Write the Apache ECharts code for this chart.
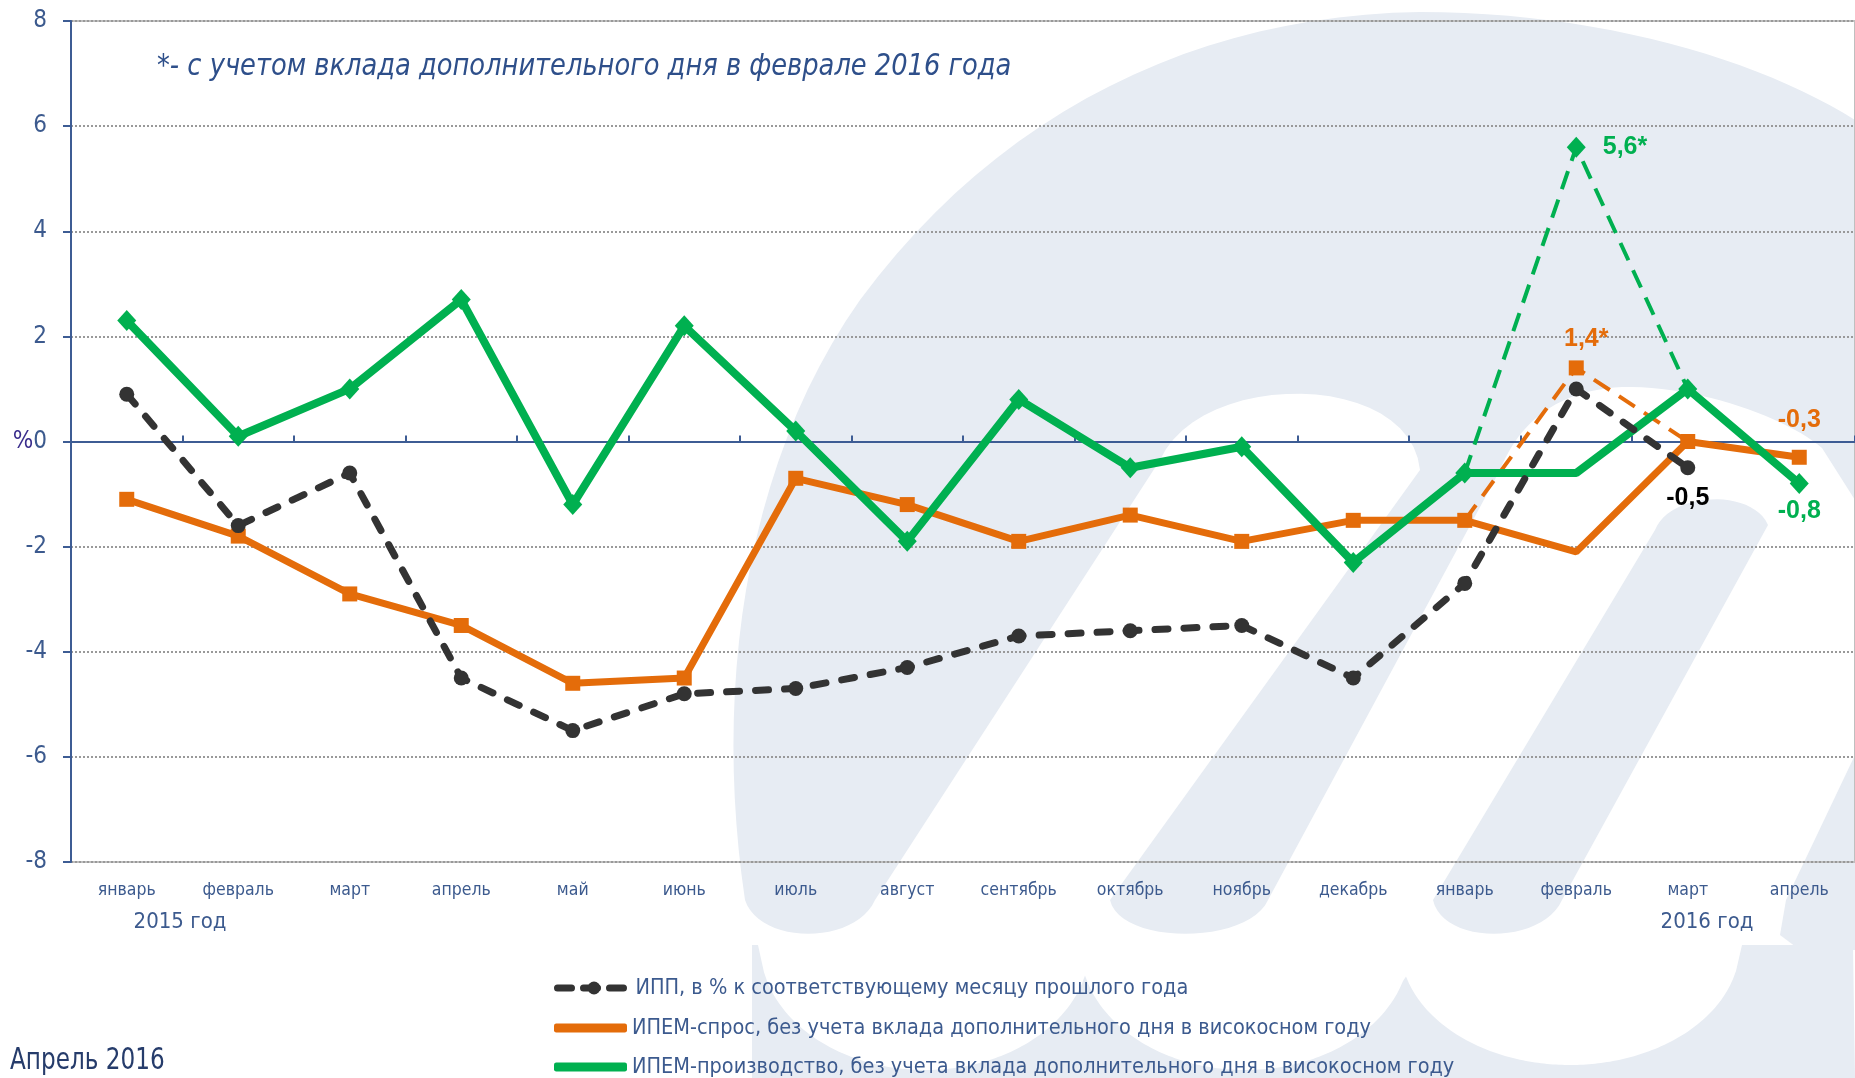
<!DOCTYPE html>
<html>
<head>
<meta charset="utf-8">
<script src="https://cdn.jsdelivr.net/npm/echarts@6/dist/echarts.min.js"></script>
<style>
  html, body { margin: 0; padding: 0; background: #fff; }
  #chart { width: 1855px; height: 1078px; }
</style>
</head>
<body>
<div id="chart"></div>
<script>
// категории (месяцы 2015-2016)
const months = ['январь', 'февраль', 'март', 'апрель', 'май', 'июнь', 'июль', 'август',
  'сентябрь', 'октябрь', 'ноябрь', 'декабрь', 'январь', 'февраль', 'март', 'апрель']
const yTicks = { min: -8, max: 8, step: 2 }

// ИПП, в % к соответствующему месяцу прошлого года
const ipp = [0.9, -1.6, -0.6, -4.5, -5.5, -4.8, -4.7, -4.3, -3.7, -3.6, -3.5, -4.5, -2.7, 1.0, -0.5, null]
// ИПЕМ-спрос
const demand = [-1.1, -1.8, -2.9, -3.5, -4.6, -4.5, -0.7, -1.2, -1.9, -1.4, -1.9, -1.5, -1.5, -2.1, 0.0, -0.3]
// ИПЕМ-производство
const output = [2.3, 0.1, 1.0, 2.7, -1.2, 2.2, 0.2, -1.9, 0.8, -0.5, -0.1, -2.3, -0.6, -0.6, 1.0, -0.8]
// с учетом дополнительного дня (пунктир)
const demandLeap = [null, null, null, null, null, null, null, null, null, null, null, null, -1.5, 1.4, 0.0, null]
const outputLeap = [null, null, null, null, null, null, null, null, null, null, null, null, -0.6, 5.6, 1.0, null]

const seriesNames = [
  'ИПП, в % к соответствующему месяцу прошлого года',
  'ИПЕМ-спрос, без учета вклада дополнительного дня в високосном году',
  'ИПЕМ-производство, без учета вклада дополнительного дня в високосном году',
]
const noteText = '*- с учетом вклада дополнительного дня в феврале 2016 года'
const yearLabels = ['2015 год', '2016 год']
const dateText = 'Апрель 2016'

const NARROW = '"Liberation Sans Narrow", "DejaVu Sans Condensed", sans-serif'
const BLUE = '#3c5a8e'
const C_BLACK = '#333333'
const C_ORANGE = '#e46c0a'
const C_GREEN = '#00b050'
const WM = '#e7ecf3'

const fmt = p => String(p.value).replace('.', ',')
const fmtStar = p => fmt(p) + '*'

// подписи отдельных точек
function pointLabel(position, distance, color, formatter, offset) {
  return {
    show: true,
    position: position,
    distance: distance,
    offset: offset || [0, 0],
    color: color,
    fontFamily: '"Liberation Sans", Arial, sans-serif',
    fontWeight: 'bold',
    fontSize: 25,
    formatter: formatter,
  }
}

/**
 * контур фона (логотип) -> набор точек для polygon
 */
function outline(start, segs) {
  const pts = [start.slice()]
  let cur = start.slice()
  segs.forEach(s => {
    if (s.length === 2) {
      pts.push(s.slice())
    } else {
      for (let k = 1; k <= 24; k++) {
        const t = k / 24, u = 1 - t
        pts.push([
          u * u * u * cur[0] + 3 * u * u * t * s[0] + 3 * u * t * t * s[2] + t * t * t * s[4],
          u * u * u * cur[1] + 3 * u * u * t * s[1] + 3 * u * t * t * s[3] + t * t * t * s[5],
        ])
      }
    }
    cur = s.slice(-2)
  })
  return pts
}

const logoMain = outline([745, 900], [
  [715, 700, 740, 470, 860, 300],
  [1000, 110, 1200, 15, 1420, 12],
  [1600, 12, 1760, 60, 1855, 120],
  [1855, 500],
  [1822, 448],
  [1790, 420, 1700, 385, 1622, 387],
  [1560, 390, 1520, 420, 1500, 470],
  [1268, 900],
  [1248, 945, 1120, 945, 1110, 900],
  [1420, 470],
  [1410, 370, 1200, 370, 1160, 460],
  [875, 900],
  [855, 945, 760, 945, 745, 900],
])
// правый наклонный штрих с круглым верхом
const logoStroke3 = outline([1655, 530], [
  [1670, 492, 1752, 488, 1768, 525],
  [1562, 900],
  [1542, 945, 1443, 945, 1433, 900],
  [1655, 530],
])
const logoStroke4 = [[1855, 755], [1786, 900], [1780, 935], [1800, 950], [1855, 950]]

// нижний ряд логотипа: полоса с белыми "чашами"
const cups = [[925, 945, 165, 125], [1245, 945, 165, 125], [1570, 945, 170, 120]]
function bottomRow() {
  const pts = [[752, 1078]]
  for (let x = 752; x <= 1855; x += 3) {
    let y = 945
    cups.forEach(c => {
      const d = (x - c[0]) / c[2]
      if (Math.abs(d) < 1) y = Math.max(y, c[1] + c[3] * Math.sqrt(1 - d * d))
    })
    pts.push([x, Math.min(y, 1078)])
  }
  pts.push([1855, 1078])
  return pts
}

const chart = echarts.init(document.getElementById('chart'))

const wmShapes = [bottomRow(), logoMain, logoStroke3, logoStroke4].map(points => ({
  type: 'polygon',
  z: -10,
  silent: true,
  shape: { points: points },
  style: { fill: WM },
}))

const option = {
  animation: false,
  backgroundColor: '#fff',
  grid: {
    left: 71,
    right: 0,
    top: 21,
    bottom: 216,
    show: true,
    borderColor: '#bfbfbf',
    borderWidth: 2,
    outerBoundsMode: 'none',
  },
  legend: seriesNames.map((name, i) => {
    const lg = {
      data: [name],
      left: 549,
      top: [972, 1012, 1051][i],
      orient: 'vertical',
      itemWidth: 73,
      itemHeight: i === 0 ? 16 : 9,
      itemGap: 0,
      textStyle: {
        color: BLUE,
        fontFamily: NARROW,
        fontSize: 21.5,
      },
    }
    if (i === 0) lg.lineStyle = { width: 7, type: [14, 12], cap: 'round' }
    if (i > 0) lg.icon = 'roundRect'
    return lg
  }),
  xAxis: [
    {
      type: 'category',
      data: months,
      position: 'bottom',
      axisLine: { show: false, onZero: false },
      axisTick: { show: false },
      axisLabel: {
        color: BLUE,
        fontFamily: NARROW,
        fontSize: 17.5,
        margin: 19,
      },
    },
    {
      // линия нуля с делениями
      type: 'category',
      data: months,
      position: 'bottom',
      axisLine: { show: true, onZero: true, lineStyle: { color: '#3d5c94', width: 2 } },
      axisTick: { show: true, inside: true, length: 6, lineStyle: { color: '#3d5c94', width: 2 } },
      axisLabel: { show: false },
    },
  ],
  yAxis: {
    type: 'value',
    min: yTicks.min,
    max: yTicks.max,
    interval: yTicks.step,
    axisLine: { show: true, lineStyle: { color: '#3d5c94', width: 2 } },
    axisTick: { show: true, length: 8, lineStyle: { color: '#3d5c94', width: 2 } },
    axisLabel: {
      color: BLUE,
      fontFamily: NARROW,
      fontSize: 24,
      margin: 24,
      formatter: v => (v === 0 ? '{p|%}0' : String(v)),
      rich: {
        p: { color: '#3a2d8c', fontFamily: NARROW, fontSize: 24 },
      },
    },
    splitLine: {
      show: true,
      lineStyle: { color: '#999', width: 2, type: [2, 2] },
    },
  },
  graphic: wmShapes.concat([
    {
      type: 'text',
      x: 157,
      y: 67,
      scaleX: 0.923,
      z: 10,
      style: {
        text: noteText,
        fill: '#2e4f8a',
        font: 'italic 31px ' + NARROW,
        align: 'left',
        verticalAlign: 'middle',
      },
    },
    {
      type: 'text',
      x: 180,
      y: 922,
      style: {
        text: yearLabels[0],
        fill: BLUE,
        font: '22px ' + NARROW,
        align: 'center',
        verticalAlign: 'middle',
      },
    },
    {
      type: 'text',
      x: 1707,
      y: 922,
      style: {
        text: yearLabels[1],
        fill: BLUE,
        font: '22px ' + NARROW,
        align: 'center',
        verticalAlign: 'middle',
      },
    },
    {
      type: 'text',
      x: 10,
      y: 1061,
      scaleX: 0.83,
      style: {
        text: dateText,
        fill: '#263c6b',
        font: '31px ' + NARROW,
        align: 'left',
        verticalAlign: 'middle',
      },
    },
  ]),
  series: [
    {
      name: seriesNames[1],
      type: 'line',
      z: 2,
      symbol: 'rect',
      symbolSize: 15,
      data: demand.map((v, i) => {
        if (i === 13) return { value: v, symbol: 'none' }
        if (i === 15) return { value: v, label: pointLabel('top', 17, C_ORANGE, fmt) }
        return v
      }),
      lineStyle: { color: C_ORANGE, width: 7 },
      itemStyle: { color: C_ORANGE },
    },
    {
      name: 'ИПЕМ-спрос*',
      type: 'line',
      z: 2,
      symbol: 'rect',
      symbolSize: 15,
      data: demandLeap.map((v, i) => {
        if (i === 13) return { value: v, label: pointLabel('top', 9, C_ORANGE, fmtStar, [10, 0]) }
        if (v === null) return v
        return { value: v, symbol: 'none' }
      }),
      lineStyle: { color: C_ORANGE, width: 4, type: [19, 11] },
      itemStyle: { color: C_ORANGE },
    },
    {
      name: seriesNames[2],
      type: 'line',
      z: 3,
      symbol: 'diamond',
      symbolSize: [19, 21],
      data: output.map((v, i) => {
        if (i === 13) return { value: v, symbol: 'none' }
        if (i === 15) return { value: v, label: pointLabel('bottom', 5, C_GREEN, fmt) }
        return v
      }),
      lineStyle: { color: C_GREEN, width: 8 },
      itemStyle: { color: C_GREEN },
    },
    {
      name: 'ИПЕМ-производство*',
      type: 'line',
      z: 3,
      symbol: 'diamond',
      symbolSize: [19, 21],
      data: outputLeap.map((v, i) => {
        if (i === 13) return { value: v, label: pointLabel('right', 17, C_GREEN, fmtStar) }
        if (v === null) return v
        return { value: v, symbol: 'none' }
      }),
      lineStyle: { color: C_GREEN, width: 4, type: [19, 11] },
      itemStyle: { color: C_GREEN },
    },
    {
      name: seriesNames[0],
      type: 'line',
      z: 4,
      symbol: 'circle',
      symbolSize: 15,
      data: ipp.map((v, i) => {
        if (i === 14) return { value: v, label: pointLabel('bottom', 10, '#000', fmt) }
        return v
      }),
      lineStyle: { color: C_BLACK, width: 7, type: [13, 16], cap: 'round' },
      itemStyle: { color: C_BLACK },
    },
  ],
}

chart.setOption(option)
</script>
</body>
</html>
